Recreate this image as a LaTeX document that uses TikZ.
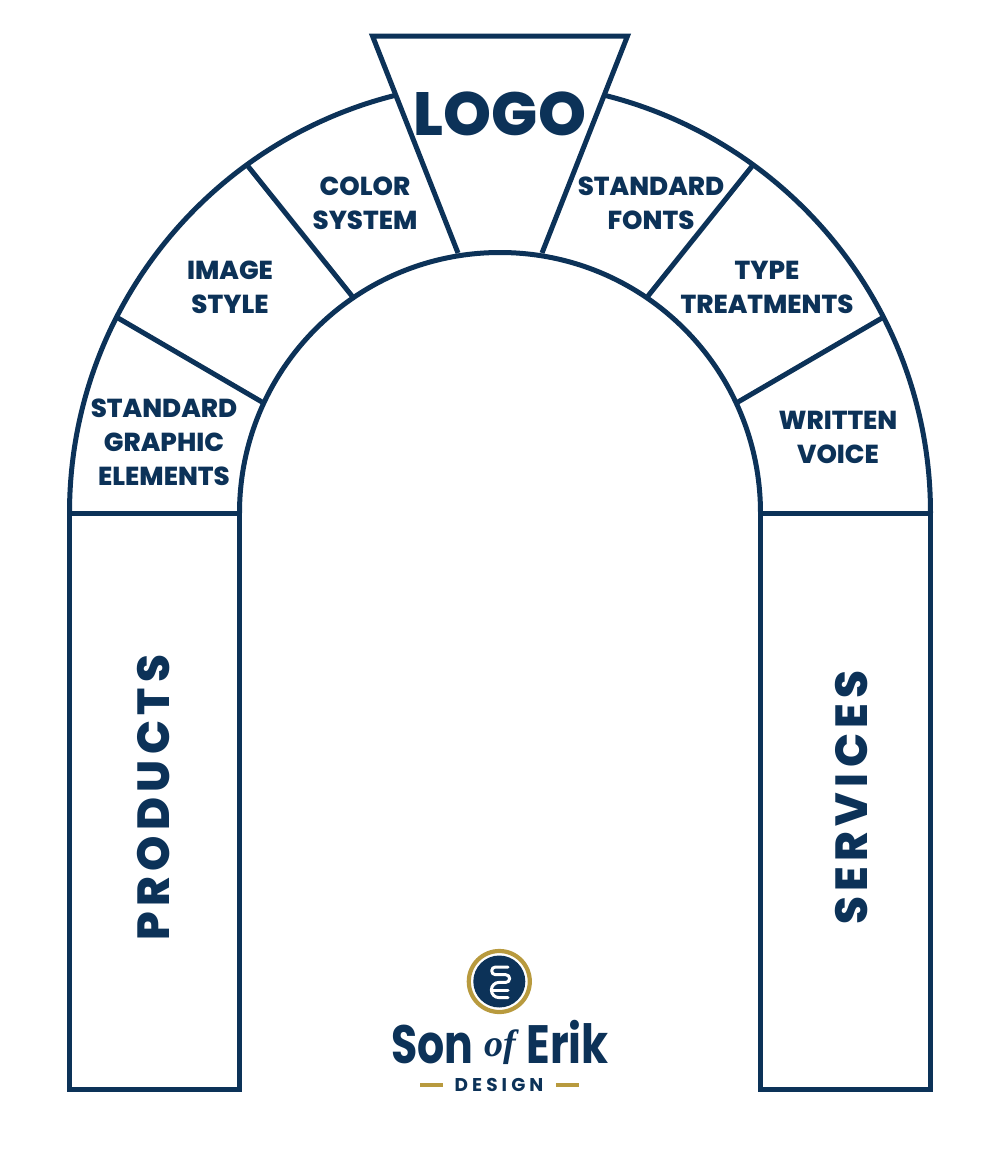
\documentclass[tikz,border=0pt]{standalone}
\usepackage{fontspec}
\setmainfont{Poppins}[UprightFont=* ExtraBold,BoldFont=* ExtraBold]
\newfontfamily\popx{Poppins}[UprightFont=* ExtraBold]
\newfontfamily\popsb{Poppins}[UprightFont=* Bold]
\newfontfamily\popsp{Poppins}[UprightFont=* ExtraBold,LetterSpace=12]
\newfontfamily\popds{Poppins}[UprightFont=* Bold,LetterSpace=22]
\newfontfamily\ofont{Liberation Serif}
\definecolor{navy}{HTML}{0C3258}
\definecolor{gold}{HTML}{B89A3E}
\tikzset{
  arch/.style={draw=navy,line width=5pt,line join=miter},
  lab/.style={text=navy,align=center,font=\fontsize{26}{33.8}\selectfont,inner sep=0pt},
  side/.style={text=navy,font=\fontsize{45}{45}\popsp\selectfont,inner sep=0pt,rotate=90},
  word/.style={text=navy,inner sep=0pt,anchor=base},
  rule/.style={gold,line width=3.6pt},
  glyph/.style={white,line width=3pt,line cap=round,line join=round},
}
\begin{document}
\begin{tikzpicture}[x=1pt,y=-1pt]
\useasboundingbox (0,0) rectangle (1000,1149);
% arch
\coordinate (c) at (500,513);
\coordinate (ol) at (69.5,513); \coordinate (or) at (930.5,513);
\coordinate (il) at (239.5,513); \coordinate (ir) at (760.5,513);
\draw[arch] (ol) arc[start angle=180,end angle=360,radius=430.5];
\draw[arch] (ol) -- (69.5,1089.5) -- (239.5,1089.5) -- (il) -- cycle;
\draw[arch] (ir) -- (760.5,1089.5) -- (930.5,1089.5) -- (or) -- cycle;
\draw[arch] (118,318) -- (262,402);
\draw[arch] (247,165) -- (352,296);
\draw[arch] (882,318) -- (738,402);
\draw[arch] (753,165) -- (648,296);
% keystone
\fill[white] (372.5,36) -- (627.5,36) -- (542,253) -- (458,253) -- cycle;
\draw[arch] (458,253) -- (372.5,36) -- (627.5,36) -- (542,253);
\draw[arch] (il) arc[start angle=180,end angle=360,radius=260.5];
% labels
\node[lab,font=\fontsize{61}{61}\popx\selectfont] (logo) at (500,114) {LOGO};
\node[lab] (color) at (365,203) {COLOR\\SYSTEM};
\node[lab] (fonts) at (651,203) {STANDARD\\FONTS};
\node[lab] (image) at (230,287.5) {IMAGE\\STYLE};
\node[lab] (type) at (767,287.5) {TYPE\\TREATMENTS};
\node[lab] (graphic) at (164,442.5) {STANDARD\\GRAPHIC\\ELEMENTS};
\node[lab] (voice) at (838,437.5) {WRITTEN\\VOICE};
\node[side] (products) at (154,797.5) {PRODUCTS};
\node[side] (services) at (852,797.5) {SERVICES};
% brand mark
\node[circle,draw=gold,line width=4.2pt,minimum size=61pt,inner sep=0pt] (ring) at (499.3,981.5) {};
\node[circle,fill=navy,minimum size=52pt,inner sep=0pt] (disc) at (499.3,981.5) {};
\draw[glyph]
  (508,967) -- (495.5,967) arc[start angle=270,end angle=90,radius=3.85] -- (505.8,974.7)
  arc[start angle=270,end angle=450,radius=3.85] -- (499,982.4)
  arc[start angle=270,end angle=90,radius=7.6] -- (508,997.6);
\draw[glyph] (492,990) -- (508,990);
% wordmark
\node[word] (son) at (432.5,1063) {\scalebox{.79}[1]{\fontsize{54}{54}\popsb\selectfont Son}};
\node[word,text depth=0pt] (of) at (500,1056) {\fontsize{38}{38}\ofont\itshape\bfseries of};
\node[word] (erik) at (567.5,1063) {\scalebox{.81}[1]{\fontsize{54}{54}\popsb\selectfont Erik}};
\node[text=navy,inner sep=0pt] (design) at (499,1085) {\fontsize{18.5}{18.5}\popds\selectfont DESIGN};
\draw[rule] (420,1085) -- (443,1085);
\draw[rule] (556,1085) -- (579,1085);
\end{tikzpicture}
\end{document}
